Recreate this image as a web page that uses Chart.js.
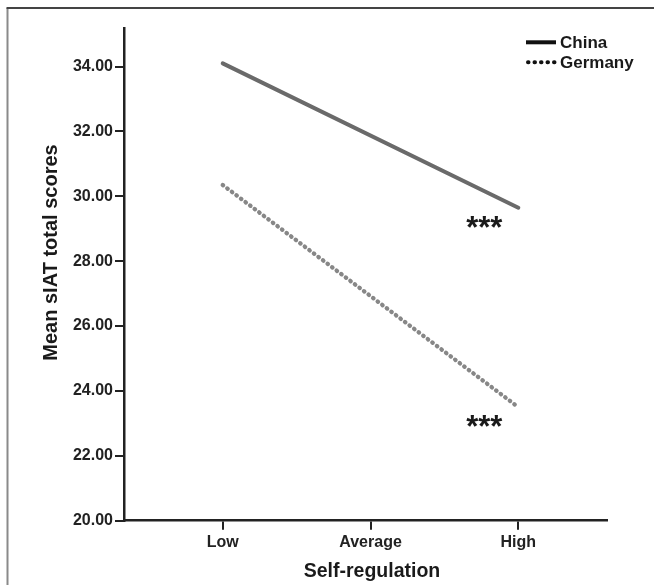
<!DOCTYPE html>
<html><head><meta charset="utf-8">
<script src="https://cdn.jsdelivr.net/npm/chart.js@4.4.1/dist/chart.umd.min.js"></script>
<style>html,body{margin:0;padding:0;background:#fff;overflow:hidden}#wrap{width:654px;height:585px;position:relative}</style>
</head><body><div id="wrap"><canvas id="c" width="654" height="585"></canvas></div>
<script>
const categories = ['Low', 'Average', 'High'];
const chinaScores = [34.1, null, 29.65];
const germanyScores = [30.35, null, 23.5];
const yTickValues = [20, 22, 24, 26, 28, 30, 32, 34];
const seriesNames = ['China', 'Germany'];
const xTitle = 'Self-regulation';
const yTitle = 'Mean sIAT total scores';
const marks = ['***', '***'];

const FONT = '"Liberation Sans", Arial, sans-serif';
const toPoints = arr => arr.map((v, i) => v === null ? null : { x: i, y: v }).filter(p => p);

const decorPlugin = {
  id: 'decor',
  beforeDraw(chart) {
    const ctx = chart.ctx;
    ctx.save();
    ctx.fillStyle = '#fff';
    ctx.fillRect(0, 0, chart.width, chart.height);
    ctx.lineWidth = 2;
    ctx.strokeStyle = '#8a8a8a';
    ctx.beginPath(); ctx.moveTo(7.5, 8); ctx.lineTo(7.5, chart.height); ctx.stroke();
    ctx.strokeStyle = '#444';
    ctx.beginPath(); ctx.moveTo(6.5, 8); ctx.lineTo(chart.width, 8); ctx.stroke();
    ctx.restore();
  },
  afterDraw(chart) {
    const ctx = chart.ctx;
    const xs = chart.scales.x, ys = chart.scales.y;
    const ca = chart.chartArea;
    ctx.save();
    ctx.fillStyle = '#1a1a1a';
    // axis titles
    ctx.textAlign = 'center';
    ctx.textBaseline = 'middle';
    ctx.font = 'bold 19.5px ' + FONT;
    ctx.fillText(xTitle, ca.left + 248, 571.3);
    ctx.save();
    ctx.translate(51.4, ca.top + 224.5);
    ctx.rotate(-Math.PI / 2);
    ctx.font = 'bold 20px ' + FONT;
    ctx.fillText(yTitle, 0, 0);
    ctx.restore();
    // significance marks near High end
    ctx.font = 'bold 31px ' + FONT;
    ctx.textBaseline = 'alphabetic';
    const markPos = [[1.77, 29.25], [1.77, 23.13]];
    marks.forEach((m, i) => {
      const px = xs.getPixelForValue(markPos[i][0]);
      const py = ys.getPixelForValue(markPos[i][1]);
      ctx.fillText(m, px, py + 0.56 * 31);
    });
    // legend
    ctx.textAlign = 'left';
    ctx.textBaseline = 'middle';
    ctx.font = 'bold 17px ' + FONT;
    const ly = [42.3, 62.3];
    chart.data.datasets.forEach((ds, i) => {
      ctx.strokeStyle = '#111';
      ctx.lineWidth = 4;
      ctx.lineCap = ds.borderDash ? 'round' : 'butt';
      ctx.setLineDash(ds.borderDash ? [0.5, 6] : []);
      ctx.beginPath();
      ctx.moveTo(ds.borderDash ? 528 : 526, ly[i]);
      ctx.lineTo(556, ly[i]);
      ctx.stroke();
      ctx.setLineDash([]);
      ctx.fillStyle = '#1a1a1a';
      ctx.fillText(ds.label, 560, ly[i] + 1);
    });
    ctx.restore();
  }
};

new Chart(document.getElementById('c'), {
  type: 'line',
  data: {
    datasets: [
      {
        label: seriesNames[0],
        data: toPoints(chinaScores),
        borderColor: '#6a6a6a',
        borderWidth: 4,
        pointRadius: 0,
        borderCapStyle: 'round',
        spanGaps: true
      },
      {
        label: seriesNames[1],
        data: toPoints(germanyScores),
        borderColor: '#878787',
        borderWidth: 4.3,
        borderDash: [0.5, 5.2],
        borderCapStyle: 'round',
        pointRadius: 0,
        spanGaps: true
      }
    ]
  },
  options: {
    responsive: false,
    animation: false,
    devicePixelRatio: 1,
    layout: { padding: { left: 0, right: 47, top: 28, bottom: 0 } },
    plugins: { legend: { display: false }, tooltip: { enabled: false } },
    scales: {
      x: {
        type: 'linear',
        min: -0.668,
        max: 2.6,
        afterBuildTicks: s => { s.ticks = categories.map((c, i) => ({ value: i })); },
        afterFit: s => { s.height = 585 - 520.7; },
        ticks: {
          callback: v => categories[v],
          font: { family: FONT, size: 16, weight: 'bold' },
          color: '#222',
          padding: 3,
          maxRotation: 0,
          autoSkip: false
        },
        grid: { display: true, drawOnChartArea: false, drawTicks: true, tickLength: 9, color: '#222', lineWidth: 2 },
        border: { display: true, color: '#222', width: 2.5 }
      },
      y: {
        type: 'linear',
        min: 20,
        max: 35.19,
        afterBuildTicks: s => { s.ticks = yTickValues.map(v => ({ value: v })); },
        afterFit: s => { s.width = 124; },
        ticks: {
          callback: v => Number(v).toFixed(2),
          font: { family: FONT, size: 16, weight: 'bold' },
          color: '#222',
          padding: 2
        },
        grid: { display: true, drawOnChartArea: false, drawTicks: true, tickLength: 9, color: '#222', lineWidth: 2 },
        border: { display: true, color: '#222', width: 2.5 }
      }
    }
  },
  plugins: [decorPlugin]
});
</script>
</body></html>
